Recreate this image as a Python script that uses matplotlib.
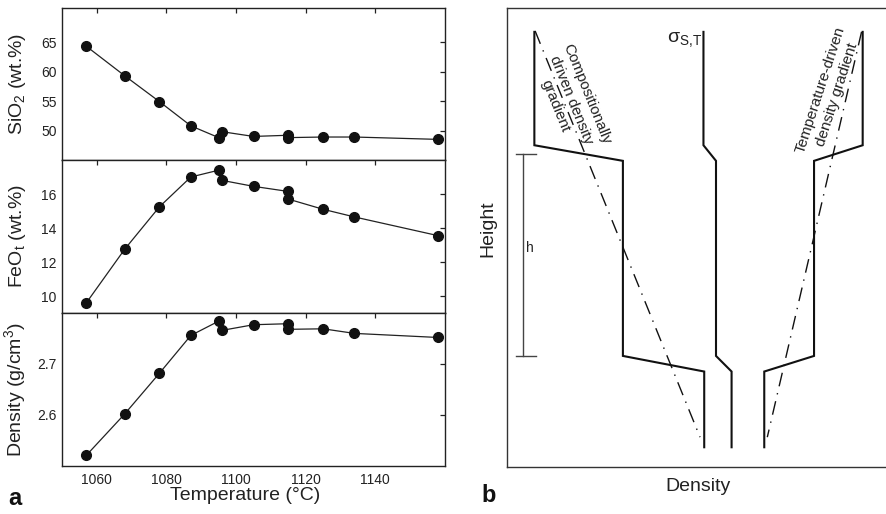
import matplotlib
matplotlib.use("Agg")
import numpy as np
from matplotlib import pyplot as plt

plt.rcParams['font.family'] = ['Liberation Sans', 'DejaVu Sans']
plt.rcParams['mathtext.default'] = 'regular'
ink = '#222222'

# panel a: measured compositions vs temperature
temperature = [1057, 1068, 1078, 1087, 1095, 1096, 1105, 1115, 1115, 1125, 1134, 1158]
sio2 = [64.3, 59.3, 54.9, 50.8, 48.8, 49.8, 49.0, 49.2, 48.8, 48.9, 48.9, 48.5]
feo = [9.6, 12.75, 15.25, 17.0, 17.4, 16.8, 16.45, 16.15, 15.7, 15.1, 14.65, 13.55]
density = [2.521, 2.602, 2.682, 2.756, 2.784, 2.766, 2.777, 2.779, 2.768, 2.769, 2.760, 2.752]
temp_ticks = [1060, 1080, 1100, 1120, 1140]

# panel b: schematic density profiles (normalised density, normalised height)
comp_x = [0.072, 0.072, 0.305, 0.305, 0.519, 0.519]
comp_y = [0.948, 0.701, 0.667, 0.242, 0.208, 0.043]
mid_x = [0.517, 0.517, 0.550, 0.550, 0.591, 0.591]
mid_y = [0.948, 0.701, 0.667, 0.242, 0.208, 0.043]
temp_x = [0.936, 0.936, 0.808, 0.808, 0.677, 0.677]
temp_y = [0.948, 0.701, 0.667, 0.242, 0.208, 0.043]
comp_grad_x = [0.074, 0.508]
comp_grad_y = [0.950, 0.065]
temp_grad_x = [0.933, 0.685]
temp_grad_y = [0.948, 0.065]
h_bar_x = 0.043
h_bar_y = [0.242, 0.681]

fig = plt.figure(figsize=(8.87, 5.14), dpi=100)

left, width = 62/887, 383/887
bottoms = [1-160/514, 1-313/514, 1-466/514]
tops = [1-8/514, 1-160/514, 1-313/514]
axes = [fig.add_axes([left, b, width, t-b]) for b, t in zip(bottoms, tops)]

series = [(sio2, (45, 70.8), [50, 55, 60, 65], 'SiO$_2$ (wt.%)'),
          (feo, (9, 18), [10, 12, 14, 16], 'FeO$_t$ (wt.%)'),
          (density, (2.5, 2.8), [2.6, 2.7], 'Density (g/cm$^3$)')]

for ax, (vals, ylim, yt, lab) in zip(axes, series):
    ax.plot(temperature, vals, '-', color=ink, lw=0.9)
    ax.plot(temperature, vals, 'o', color='#111111', ms=7, clip_on=False, zorder=3)
    ax.set_xlim(1050, 1160)
    ax.set_ylim(*ylim)
    ax.set_yticks(yt)
    ax.set_xticks(temp_ticks)
    ax.tick_params(axis='x', direction='in', bottom=False, top=True, labelbottom=False,
                   length=3.5, width=0.9, color=ink, labelsize=10, labelcolor=ink, pad=5)
    ax.tick_params(axis='y', direction='in', left=False, right=True, length=3.5, width=0.9,
                   color=ink, labelsize=10, labelcolor=ink, pad=4)
    ax.set_ylabel(lab, fontsize=14, color=ink)
    ax.yaxis.set_label_coords(-0.088, 0.5)
    for s in ax.spines.values():
        s.set_linewidth(1.0)
        s.set_color(ink)

axes[2].tick_params(axis='x', labelbottom=True)
axes[2].set_yticklabels(['2.6', '2.7'])
axes[2].set_xlabel('Temperature (°C)', fontsize=14, color=ink)
axes[2].xaxis.set_label_coords(0.478, -0.135)

# panel b
axb = fig.add_axes([507/887, 1-467/514, 1-507/887, 459/514])
axb.set_xlim(0, 1)
axb.set_ylim(0, 1)
axb.set_xticks([])
axb.set_yticks([])
axb.spines['right'].set_visible(False)
for s in ['left', 'top', 'bottom']:
    axb.spines[s].set_linewidth(1.0)
    axb.spines[s].set_color('#333333')

for xs, ys in [(comp_x, comp_y), (mid_x, mid_y), (temp_x, temp_y)]:
    axb.plot(xs, ys, color='#111111', lw=1.5, solid_joinstyle='miter')
for xs, ys in [(comp_grad_x, comp_grad_y), (temp_grad_x, temp_grad_y)]:
    axb.plot(xs, ys, color='#111111', lw=1.0, dashes=(10, 5, 1, 5))

axb.plot([h_bar_x, h_bar_x], h_bar_y, color='#444444', lw=1.0)
for yy in h_bar_y:
    axb.plot([h_bar_x - 0.019, h_bar_x + 0.033], [yy, yy], color='#444444', lw=1.0)
axb.text(h_bar_x + 0.006, 0.477, 'h', fontsize=10, color=ink, ha='left', va='center')

axb.text(0.514, 0.952, r'$\sigma_{S{,}T}$', fontsize=14, color=ink, ha='right', va='top')
axb.text(0.168, 0.800, 'Compositionally\ndriven density\ngradient', fontsize=11, color=ink,
         rotation=-68, ha='center', va='center', multialignment='center', linespacing=1.25)
axb.text(0.847, 0.817, 'Temperature-driven\ndensity gradient', fontsize=11, color=ink,
         rotation=72, ha='center', va='center', multialignment='center', linespacing=1.25)

axb.text(-0.05, 0.52, 'Height', fontsize=14, color=ink, rotation=90, ha='center', va='center',
         transform=axb.transAxes)
axb.text(0.503, -0.025, 'Density', fontsize=14, color=ink, ha='center', va='top',
         transform=axb.transAxes)

fig.text(8/887, 1-505/514, 'a', fontsize=17, fontweight='bold', color='#111111')
fig.text(481/887, 1-502/514, 'b', fontsize=17, fontweight='bold', color='#111111')

plt.savefig('out.png', dpi=100)
plt.close()
